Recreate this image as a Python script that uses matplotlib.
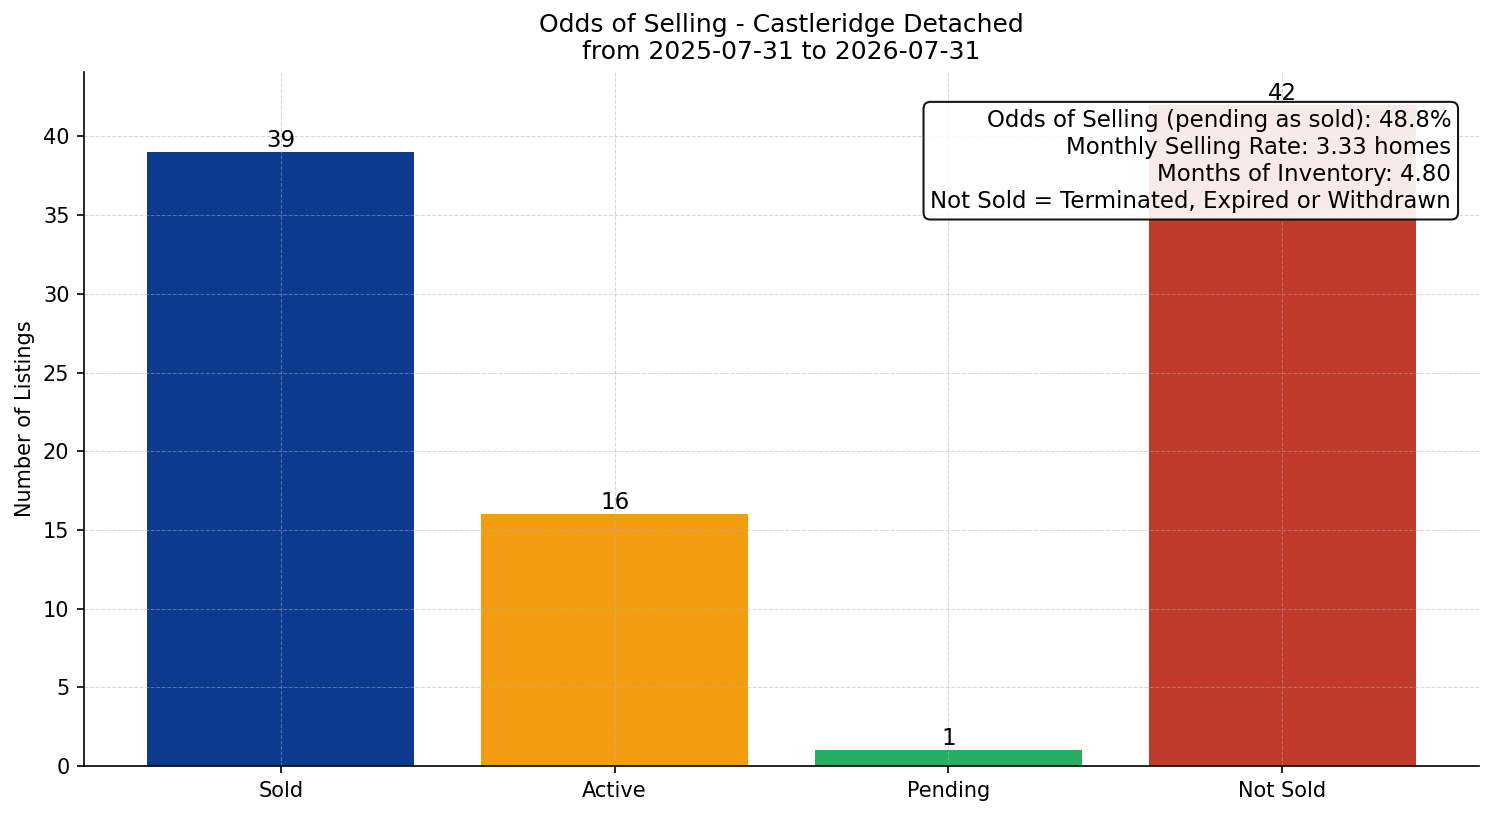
import matplotlib
matplotlib.use("Agg")
import matplotlib.pyplot as plt

categories = ["Sold", "Active", "Pending", "Not Sold"]
counts = [39, 16, 1, 42]
colors = ["#0b3a8e", "#f39c12", "#27ae60", "#c0392b"]

odds = 48.8
monthly_rate = 3.33
months_inventory = 4.80

fig, ax = plt.subplots(figsize=(9.96, 5.44), dpi=150)

bars = ax.bar(categories, counts, color=colors)
for b, v in zip(bars, counts):
    ax.text(b.get_x() + b.get_width() / 2, v, str(v), ha="center", va="bottom", fontsize=11)

ax.set_title("Odds of Selling - Castleridge Detached\nfrom 2025-07-31 to 2026-07-31", fontsize=12)
ax.set_ylabel("Number of Listings")
ax.grid(True, linestyle="--", linewidth=0.5, alpha=0.5)
ax.spines["top"].set_visible(False)
ax.spines["right"].set_visible(False)

info = (f"Odds of Selling (pending as sold): {odds:.1f}%\n"
        f"Monthly Selling Rate: {monthly_rate:.2f} homes\n"
        f"Months of Inventory: {months_inventory:.2f}\n"
        "Not Sold = Terminated, Expired or Withdrawn")
ax.text(0.98, 0.947, info, transform=ax.transAxes, ha="right", va="top", fontsize=11,
        linespacing=1.22,
        bbox=dict(boxstyle="round,pad=0.3", facecolor="white", edgecolor="black", alpha=0.9),
        zorder=5)

fig.subplots_adjust(left=0.0562, right=0.99, top=0.9118, bottom=0.0613)
fig.savefig("out.png")
